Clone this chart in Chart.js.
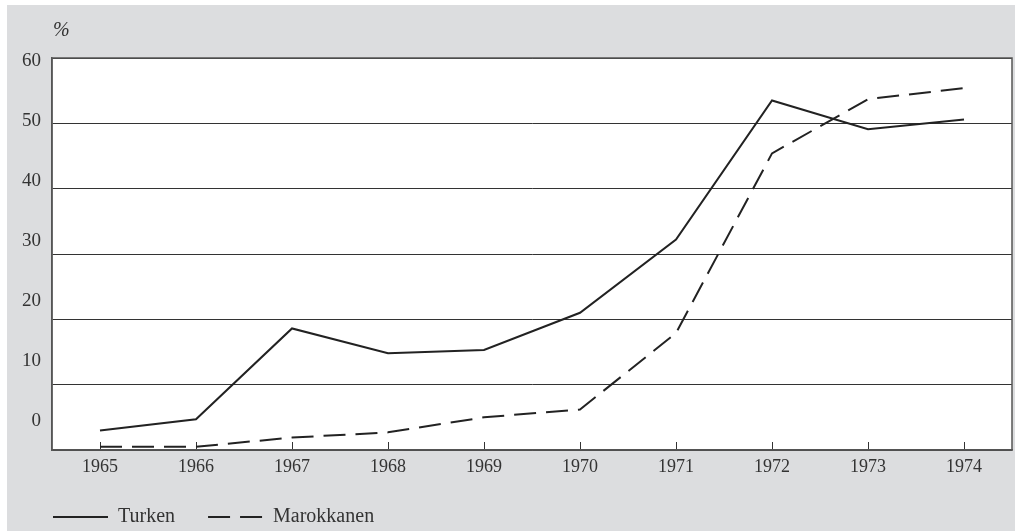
<!DOCTYPE html>
<html>
<head>
<meta charset="utf-8">
<script src="https://cdn.jsdelivr.net/npm/chart.js@4/dist/chart.umd.min.js"></script>
<style>
  body { margin: 0; background: #fff; }
  #kader { position: absolute; left: 7px; top: 5px; width: 1008px; height: 526px; background: #dcdddf; }
</style>
</head>
<body>
<div id="kader"><canvas id="grafiek" width="1008" height="526"></canvas></div>
<script>
const jaren = ['1965', '1966', '1967', '1968', '1969', '1970', '1971', '1972', '1973', '1974'];
const turken = [3.0, 4.7, 18.6, 14.8, 15.3, 21.0, 32.2, 53.5, 49.1, 50.6];
const marokkanen = [0.5, 0.5, 1.9, 2.7, 5.0, 6.2, 17.9, 45.4, 53.7, 55.4];
const yLabels = [0, 10, 20, 30, 40, 50, 60];

const lettertype = "'Liberation Serif', 'DejaVu Serif', serif";
const tekstKleur = '#333333';

// witte plotruimte, kader en het %-teken boven de as
const plotKader = {
  id: 'plotKader',
  beforeDraw(chart) {
    const { ctx, chartArea: a } = chart;
    ctx.save();
    ctx.fillStyle = '#ffffff';
    ctx.fillRect(a.left, a.top, a.right - a.left, a.bottom - a.top);
    ctx.restore();
  },
  afterDraw(chart) {
    const { ctx, chartArea: a } = chart;
    ctx.save();
    ctx.strokeStyle = '#555555';
    ctx.lineWidth = 1.5;
    ctx.strokeRect(a.left, a.top, a.right - a.left, a.bottom - a.top);
    ctx.fillStyle = tekstKleur;
    ctx.font = "italic 20px " + lettertype;
    ctx.textAlign = 'left';
    ctx.textBaseline = 'middle';
    ctx.fillText('%', a.left + 1, a.top - 27);
    ctx.restore();
  }
};

new Chart(document.getElementById('grafiek').getContext('2d'), {
  type: 'line',
  data: {
    labels: jaren,
    datasets: [
      {
        label: 'Turken',
        data: turken,
        borderColor: '#222222',
        borderWidth: 2,
        pointRadius: 0,
        tension: 0,
        yAxisID: 'y'
      },
      {
        label: 'Marokkanen',
        data: marokkanen,
        borderColor: '#222222',
        borderWidth: 2,
        borderDash: [22, 10],
        pointRadius: 0,
        tension: 0,
        yAxisID: 'y'
      }
    ]
  },
  options: {
    responsive: false,
    animation: false,
    layout: {
      padding: { top: 53, left: 13, right: 3, bottom: -6 }
    },
    plugins: {
      legend: {
        position: 'bottom',
        align: 'start',
        labels: {
          usePointStyle: true,
          pointStyle: 'line',
          pointStyleWidth: 55,
          padding: 33,
          color: tekstKleur,
          font: { family: lettertype, size: 20 },
          generateLabels(chart) {
            const items = Chart.defaults.plugins.legend.labels.generateLabels(chart);
            items.forEach(item => {
              const ds = chart.data.datasets[item.datasetIndex];
              item.lineDash = ds.borderDash || [];
              item.lineWidth = ds.borderWidth;
              item.strokeStyle = ds.borderColor;
            });
            return items;
          }
        }
      },
      tooltip: { enabled: false }
    },
    scales: {
      x: {
        offset: true,
        grid: {
          offset: false,
          drawOnChartArea: false,
          drawTicks: true,
          tickLength: -8,
          color: '#333333',
          lineWidth: 1
        },
        border: { display: true, color: '#555555', width: 1.5 },
        ticks: {
          color: tekstKleur,
          font: { family: lettertype, size: 18 },
          padding: 14,
          maxRotation: 0,
          autoSkip: false
        },
        afterFit(scale) { scale.height = 24; }
      },
      y: {
        position: 'left',
        weight: 0,
        min: 0,
        max: 60,
        ticks: { display: false, stepSize: 10 },
        grid: { color: '#333333', lineWidth: 1, drawTicks: false },
        border: { display: true, color: '#555555', width: 1.5 },
        afterFit(scale) { scale.width = 0; }
      },
      y2: {
        position: 'left',
        weight: 1,
        min: -4.833,
        max: 60.5,
        afterBuildTicks(scale) {
          scale.ticks = yLabels.map(v => ({ value: v }));
        },
        ticks: {
          color: tekstKleur,
          font: { family: lettertype, size: 19 },
          padding: 11
        },
        grid: { display: false, drawTicks: false },
        border: { display: false },
        afterFit(scale) { scale.width = 32; }
      }
    }
  },
  plugins: [plotKader]
});
</script>
</body>
</html>
